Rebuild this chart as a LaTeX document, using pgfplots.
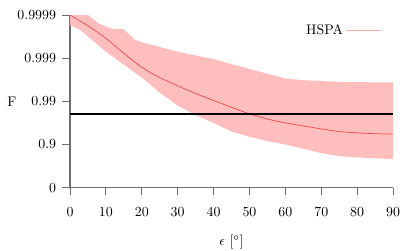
\documentclass[border=0pt]{standalone}
\usepackage{pgfplots}
\pgfplotsset{compat=1.18}
\usepgfplotslibrary{fillbetween}
\definecolor{band}{RGB}{255,190,190}
\definecolor{meanred}{RGB}{240,70,70}
\definecolor{legpink}{RGB}{255,175,175}
\definecolor{axgray}{RGB}{110,110,110}
\begin{document}
\begin{tikzpicture}
\begin{axis}[
  name=ax,
  scale only axis,
  width=232.6pt, height=124.3pt,
  xmin=0, xmax=90, ymin=0, ymax=4,
  axis x line=bottom, axis y line=left,
  axis line style={-, axgray, line width=0.8pt},
  tick align=outside,
  major tick length=5.5pt,
  tick style={axgray, line width=0.6pt},
  xtick={0,10,...,90},
  ytick={0,1,2,3,4},
  yticklabels={0,0.9,0.99,0.999,0.9999},
  xticklabel style={yshift=-5.5pt},
  yticklabel style={xshift=-1pt},
  xlabel={$\epsilon$ [$^\circ$]},
  xlabel style={yshift=-6pt},
  ylabel={F},
  every axis y label/.style={at={(rel axis cs:0,0.5)}, xshift=-41.8pt, anchor=center},
  legend style={draw=none, fill=none, at={(rel axis cs:0.965,0.909)}, anchor=east, inner sep=0pt},
  legend plot pos=right,
  legend image code/.code={\draw[legpink, line width=1pt] (0pt,0pt) -- (24.7pt,0pt);},
]
\addplot[name path=up, draw=none, forget plot] coordinates {
(0,4) (5,4) (8,3.8) (12,3.67) (15,3.67) (18,3.43) (20,3.37) (25,3.26) (30,3.15) (35,3.06) (40,2.98) (45,2.86) (50,2.75) (55,2.64) (60,2.53) (65,2.49) (70,2.47) (75,2.45) (80,2.445) (85,2.44) (90,2.44)};
\addplot[name path=lo, draw=none, forget plot] coordinates {
(0,3.77) (3,3.65) (5,3.5) (10,3.15) (15,2.85) (20,2.55) (25,2.2) (30,1.9) (35,1.68) (40,1.5) (45,1.30) (50,1.18) (55,1.08) (60,1.0) (65,0.9) (70,0.8) (75,0.73) (80,0.7) (85,0.68) (90,0.66)};
\addplot[band, forget plot] fill between[of=up and lo];
\addplot[meanred, line width=0.5pt, smooth, tension=0.5, forget plot] coordinates {
(0,4.0) (5,3.75) (10,3.46) (15,3.11) (20,2.79) (25,2.55) (30,2.36) (35,2.18) (40,2.02) (45,1.86) (50,1.71) (55,1.59) (60,1.50) (65,1.43) (70,1.36) (75,1.30) (80,1.27) (85,1.25) (90,1.24)};
\addlegendimage{legpink}
\addlegendentry{HSPA}
\addplot[black, line width=1.4pt, forget plot] coordinates {(0,1.699) (90,1.699)};
\end{axis}
\pgfresetboundingbox
\path[use as bounding box] (ax.south west) ++(-50.4pt,-44.9pt) rectangle ++(298.8pt,180pt);
\end{tikzpicture}
\end{document}
